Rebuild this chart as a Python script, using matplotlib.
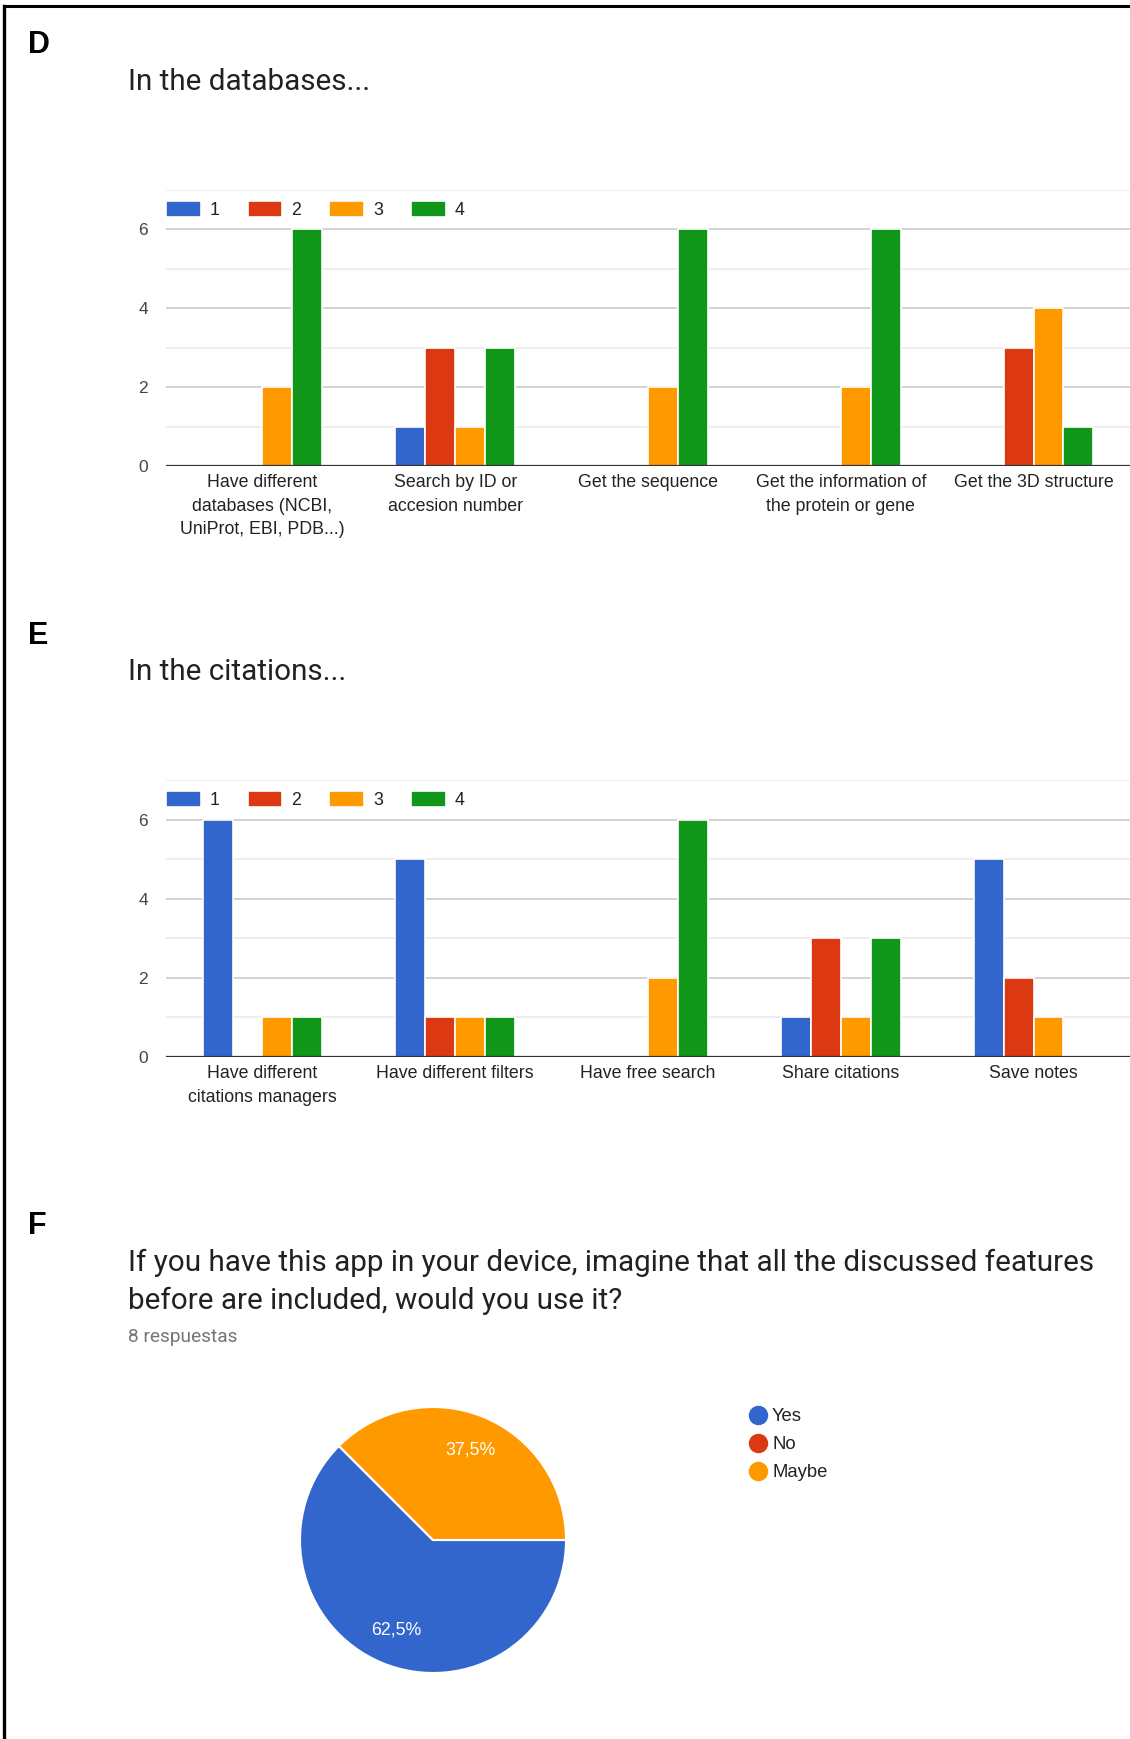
import matplotlib
matplotlib.use("Agg")
import matplotlib.pyplot as plt
from matplotlib.lines import Line2D
import numpy as np

W, H = 1130, 1739
DPI = 100

# --- datos ---
series_names = ["1", "2", "3", "4"]
series_colors = ["#3366CC", "#DC3912", "#FF9900", "#109618"]

db_title = "In the databases..."
db_categories = [
    "Have different\ndatabases (NCBI,\nUniProt, EBI, PDB...)",
    "Search by ID or\naccesion number",
    "Get the sequence",
    "Get the information of\nthe protein or gene",
    "Get the 3D structure",
]
db_s1 = [0, 1, 0, 0, 0]
db_s2 = [0, 3, 0, 0, 3]
db_s3 = [2, 1, 2, 2, 4]
db_s4 = [6, 3, 6, 6, 1]

cit_title = "In the citations..."
cit_categories = [
    "Have different\ncitations managers",
    "Have different filters",
    "Have free search",
    "Share citations",
    "Save notes",
]
cit_s1 = [6, 5, 0, 1, 5]
cit_s2 = [0, 1, 0, 3, 2]
cit_s3 = [1, 1, 2, 1, 1]
cit_s4 = [1, 1, 6, 3, 0]

yticks_major = [0, 2, 4, 6]
yticks_minor = [1, 3, 5, 7]

pie_title = ("If you have this app in your device, imagine that all the discussed features\n"
             "before are included, would you use it?")
pie_subtitle = "8 respuestas"
pie_labels = ["Yes", "No", "Maybe"]
pie_values = [5, 0, 3]
pie_colors = ["#3366CC", "#DC3912", "#FF9900"]

ARIAL = ["Liberation Sans", "DejaVu Sans"]
ROBOTO = ["Roboto", "DejaVu Sans"]

fig = plt.figure(figsize=(W / DPI, H / DPI), dpi=DPI)
fig.patch.set_facecolor("white")


def px_axes(left, top, right, bottom):
    return fig.add_axes([left / W, 1 - bottom / H, (right - left) / W, (bottom - top) / H])


def bar_panel(ax, cats, values, legend_y):
    x = np.arange(len(cats))
    pitch = 0.155
    for i, (name, vals, col) in enumerate(zip(series_names, values, series_colors)):
        ax.bar(x + (i - 1.5) * pitch, vals, width=pitch, color=col,
               edgecolor="white", linewidth=1.2, label=name, zorder=2)
    ax.set_xlim(-0.5, len(cats) - 0.5)
    ax.set_ylim(0, 7)
    ax.set_yticks(yticks_major)
    ax.set_yticks(yticks_minor, minor=True)
    ax.set_axisbelow(True)
    ax.grid(axis="y", which="major", color="#cccccc", lw=1.2)
    ax.grid(axis="y", which="minor", color="#ebebeb", lw=1.2)
    ax.axhline(0, color="#333333", lw=1.6, zorder=3)
    for s in ax.spines.values():
        s.set_visible(False)
    ax.set_xticks(x)
    ax.set_xticklabels(cats, fontsize=12.8, color="#222222", linespacing=1.5, family=ARIAL)
    for lab in ax.get_yticklabels():
        lab.set_family(ARIAL)
    ax.tick_params(axis="both", which="both", length=0)
    ax.tick_params(axis="y", pad=13, labelsize=12.5, labelcolor="#444444")
    ax.tick_params(axis="x", pad=6)
    ax.legend(ncol=4, loc="center left", bbox_to_anchor=(0, legend_y),
              bbox_transform=ax.get_yaxis_transform(), frameon=False,
              borderpad=0, borderaxespad=0, handlelength=1.95, handleheight=1.05,
              handletextpad=0.5, columnspacing=1.59,
              prop={"family": ARIAL, "size": 12.8}, labelcolor="#222222")


# marco
fig.add_artist(Line2D([3.5 / W, 1], [1 - 6 / H, 1 - 6 / H], color="black", lw=2.2,
                      transform=fig.transFigure))
fig.add_artist(Line2D([3.5 / W, 3.5 / W], [0, 1 - 6 / H], color="black", lw=2.4,
                      transform=fig.transFigure))

# D
fig.text(28 / W, 1 - 45 / H, "D", fontsize=22, weight="bold", family=ARIAL, va="center")
fig.text(128 / W, 1 - 82 / H, db_title, fontsize=21.3, family=ROBOTO, color="#212121", va="center")
ax_d = px_axes(166, 190, 1130, 466)
bar_panel(ax_d, db_categories, [db_s1, db_s2, db_s3, db_s4], 6.5)

# E
fig.text(28 / W, 1 - 636 / H, "E", fontsize=22, weight="bold", family=ARIAL, va="center")
fig.text(128 / W, 1 - 672 / H, cit_title, fontsize=21.3, family=ROBOTO, color="#212121", va="center")
ax_e = px_axes(166, 780, 1130, 1057)
bar_panel(ax_e, cit_categories, [cit_s1, cit_s2, cit_s3, cit_s4], 6.5)

# F
fig.text(28 / W, 1 - 1226 / H, "F", fontsize=22, weight="bold", family=ARIAL, va="center")
fig.text(128 / W, 1 - 1282 / H, pie_title, fontsize=21.3, family=ROBOTO, color="#212121",
         va="center", linespacing=1.42)
fig.text(128 / W, 1 - 1337 / H, pie_subtitle, fontsize=13.8, family=ROBOTO, color="#757575", va="center")

ax_p = px_axes(300, 1407, 566, 1673)


def pct_label(p):
    return f"{p:.1f}%".replace(".", ",") if p > 0 else ""


ax_p.pie(pie_values, colors=pie_colors, startangle=0, counterclock=False, radius=1,
         autopct=pct_label, pctdistance=0.73,
         wedgeprops=dict(edgecolor="white", linewidth=1.5),
         textprops=dict(color="white", fontsize=12.8, family=ARIAL))
ax_p.set_xlim(-1, 1)
ax_p.set_ylim(-1, 1)
ax_p.set_aspect("equal")

handles = [Line2D([], [], marker="o", ls="", markersize=13, color=c) for c in pie_colors]
fig.legend(handles, pie_labels, loc="upper left", bbox_to_anchor=(749 / W, 1 - 1408 / H),
           frameon=False, borderpad=0, borderaxespad=0, handlelength=0.95, handletextpad=0.3,
           labelspacing=0.6, prop={"family": ARIAL, "size": 13.3}, labelcolor="#222222")

plt.savefig("out.png", dpi=DPI, facecolor="white")
plt.close()
